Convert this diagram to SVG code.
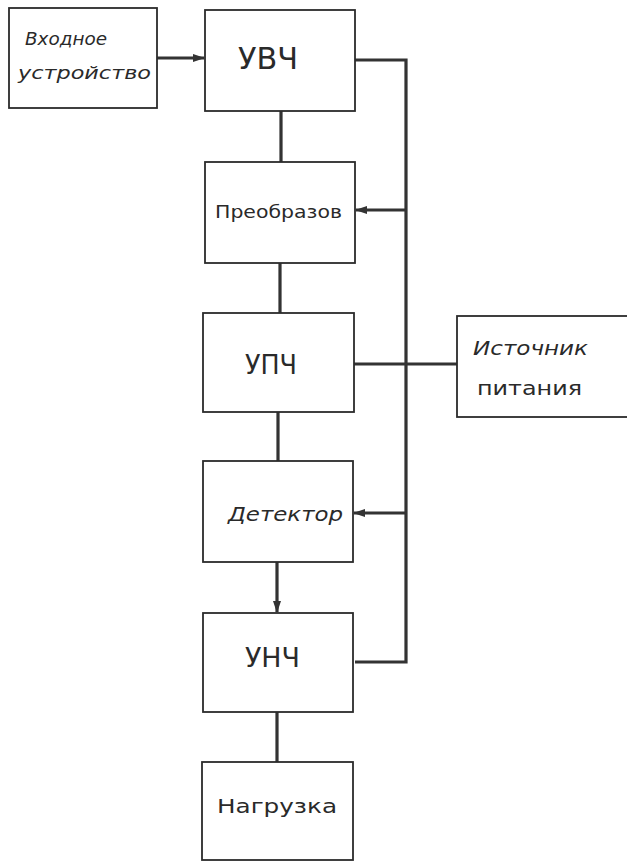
<svg xmlns="http://www.w3.org/2000/svg" width="627" height="862" viewBox="0 0 627 862">
<style>
.box{fill:#fff;stroke:#2b2b2b;stroke-width:1.8}
.t{font-family:"DejaVu Sans","Liberation Sans",sans-serif;fill:#2a2a2a}
.it{font-style:italic}
.c{stroke:#333;stroke-width:3.2;fill:none}
</style>
<defs>
<marker id="ah" markerWidth="12" markerHeight="8" refX="11" refY="4" orient="auto" markerUnits="userSpaceOnUse">
<path d="M0,0 L12,4 L0,8 Z" fill="#333"/>
</marker>
</defs>
<rect width="627" height="862" fill="#fff"/>
<g id="connectors">
<line class="c" x1="157" y1="58" x2="204" y2="58" marker-end="url(#ah)"/>
<polyline class="c" points="355,60 406,60 406,662 355,662"/>
<line class="c" x1="406" y1="210" x2="356" y2="210" marker-end="url(#ah)"/>
<line class="c" x1="354" y1="364" x2="457" y2="364"/>
<line class="c" x1="406" y1="513" x2="354" y2="513" marker-end="url(#ah)"/>
<line class="c" x1="281" y1="111" x2="281" y2="162"/>
<line class="c" x1="280" y1="263" x2="280" y2="313"/>
<line class="c" x1="278" y1="412" x2="278" y2="461"/>
<line class="c" x1="277" y1="562" x2="277" y2="612" marker-end="url(#ah)"/>
<line class="c" x1="277" y1="712" x2="277" y2="762"/>
</g>
<g id="input"><rect class="box" x="9" y="8" width="148" height="100"/>
<text class="t it" x="25" y="45" font-size="18" textLength="82" lengthAdjust="spacingAndGlyphs">Входное</text>
<text class="t it" x="18" y="79" font-size="18" textLength="133" lengthAdjust="spacingAndGlyphs">устройство</text></g>
<g id="uvch"><rect class="box" x="205" y="10" width="150" height="101"/>
<text class="t" x="238" y="69" font-size="30" textLength="60" lengthAdjust="spacingAndGlyphs">УВЧ</text></g>
<g id="preobr"><rect class="box" x="205" y="162" width="150" height="101"/>
<text class="t" x="215" y="218" font-size="18" textLength="127" lengthAdjust="spacingAndGlyphs">Преобразов</text></g>
<g id="upch"><rect class="box" x="203" y="313" width="151" height="99"/>
<text class="t" x="245" y="374" font-size="26" textLength="52" lengthAdjust="spacingAndGlyphs">УПЧ</text></g>
<g id="power"><rect class="box" x="457" y="316" width="185" height="101"/>
<text class="t it" x="473" y="355" font-size="19" textLength="115" lengthAdjust="spacingAndGlyphs">Источник</text>
<text class="t" x="477" y="395" font-size="19" textLength="105" lengthAdjust="spacingAndGlyphs">питания</text></g>
<g id="det"><rect class="box" x="203" y="461" width="150" height="101"/>
<text class="t it" x="228" y="521" font-size="20" textLength="115" lengthAdjust="spacingAndGlyphs">Детектор</text></g>
<g id="unch"><rect class="box" x="203" y="613" width="150" height="99"/>
<text class="t" x="245" y="667" font-size="26" textLength="55" lengthAdjust="spacingAndGlyphs">УНЧ</text></g>
<g id="load"><rect class="box" x="202" y="762" width="151" height="98"/>
<text class="t" x="217" y="813" font-size="20" textLength="120" lengthAdjust="spacingAndGlyphs">Нагрузка</text></g>
</svg>
